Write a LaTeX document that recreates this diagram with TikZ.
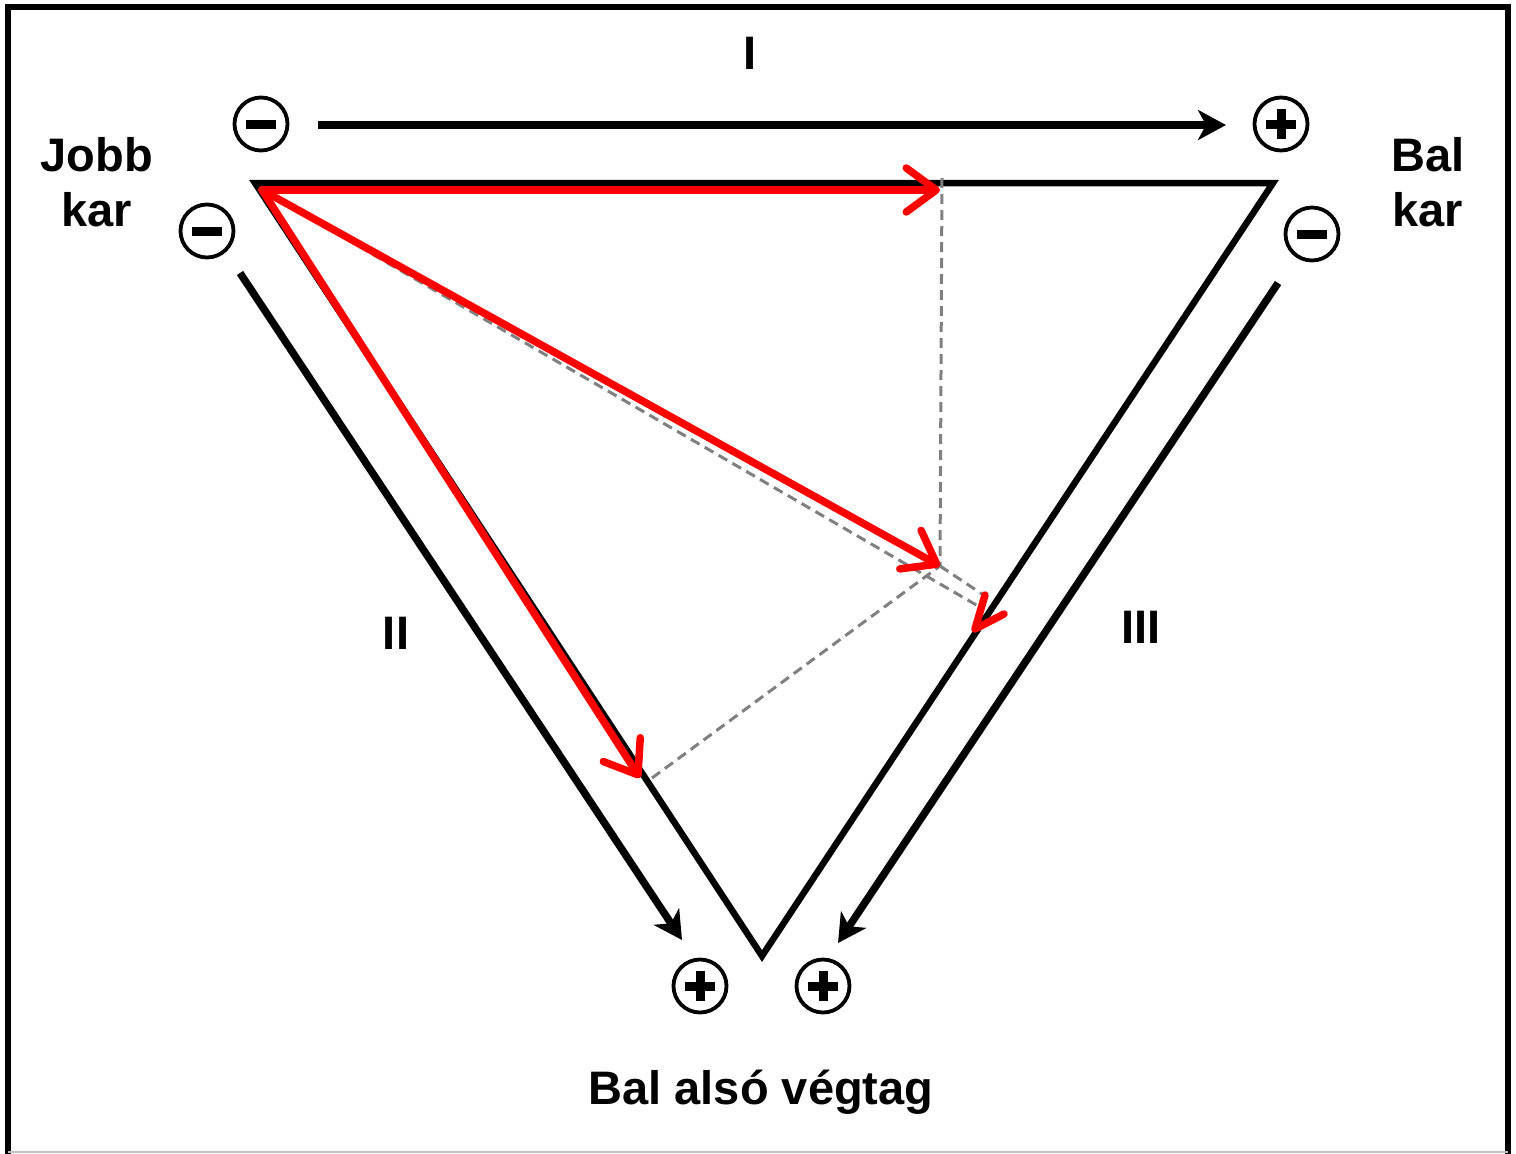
\documentclass[tikz,border=0pt]{standalone}
\usepackage{fontspec}
\setmainfont{Liberation Sans}
\usetikzlibrary{arrows.meta,calc}
\begin{document}
\begin{tikzpicture}[x=1pt,y=-1pt,
  lbl/.style={font=\fontsize{47}{55}\selectfont\bfseries, inner sep=0pt, align=center},
  pole/.style={circle, draw, line width=3.8pt, minimum size=53pt, inner sep=0pt},
  minusnode/.style={pole, path picture={\fill ($(path picture bounding box.center)+(-15,-4.5)$) rectangle ++(30,9);}},
  plusnode/.style={pole, path picture={\fill ($(path picture bounding box.center)+(-15,-4.5)$) rectangle ++(30,9);
     \fill ($(path picture bounding box.center)+(-4.5,-15)$) rectangle ++(9,30);}},
  side/.style={line width=6.5pt, line join=miter},
  lead/.style={line width=7.5pt, -{Stealth[length=28pt,width=30pt,inset=8pt]}},
  vec/.style={red, line width=7.5pt, line cap=round, -{Straight Barb[length=30pt,width=44pt,round]}},
  proj/.style={gray, line width=3pt, dash pattern=on 10pt off 6pt},
]
\useasboundingbox (0,0) rectangle (1516,1154);
\fill[white] (0,0) rectangle (1516,1154);
% frame
\draw[line width=6pt] (7.5,1160) -- (7.5,7) -- (1507.5,7) -- (1507.5,1160);
\draw[gray!50, line width=1.5pt] (7.5,1152) -- (1507.5,1152);

% vertices and points
\coordinate (RA) at (255,183);
\coordinate (LA) at (1273,183);
\coordinate (LL) at (762,956);
\coordinate (O) at (262,190);
\coordinate (T1) at (940,190);
\coordinate (P) at (940,566);
\coordinate (T2) at (640,778);
\coordinate (V1) at (942,178);
\coordinate (D1) at (978,606);
\coordinate (D2) at (982,594);
\coordinate (D3) at (652,778);

% leads
\coordinate (I0) at (318,125);   \coordinate (I1) at (1226,125);
\coordinate (II0) at (240,273);  \coordinate (II1) at (682,940);
\coordinate (III0) at (1278,283);\coordinate (III1) at (838,943);

% triangle
\draw[side] (LA) -- (RA) -- (LL) -- cycle;

% dashed projections
\draw[proj] (V1) -- (P);
\draw[proj] (O) -- (D1);
\draw[proj] (P) -- (D2);
\draw[proj] (D3) -- (P);

% lead arrows
\draw[lead] (I0) -- (I1);
\draw[lead] (II0) -- (II1);
\draw[lead] (III0) -- (III1);

% red vectors
\draw[vec] (O) -- (T1);
\draw[vec] (O) -- (P);
\draw[vec] (O) -- (T2);
\draw[red, line width=7.5pt, line cap=round, line join=round] (985,595) -- (975,629) -- (1004,614);

% poles
\node[minusnode] (m1) at (261,124) {};
\node[minusnode] (m2) at (207,231) {};
\node[plusnode] (p1) at (1281,124) {};
\node[minusnode] (m3) at (1312,234) {};
\node[plusnode] (p2) at (700,986) {};
\node[plusnode] (p3) at (823,986) {};

% labels
\node[lbl] (jk) at (97,182) {Jobb\\kar};
\node[lbl] (bk) at (1428,182) {Bal\\kar};
\node[lbl] (l1) at (750,53) {I};
\node[lbl] (l2) at (396,633) {II};
\node[lbl] (l3) at (1141,627) {III};
\node[lbl] (ll) at (761,1092) {Bal alsó végtag};
\end{tikzpicture}
\end{document}
